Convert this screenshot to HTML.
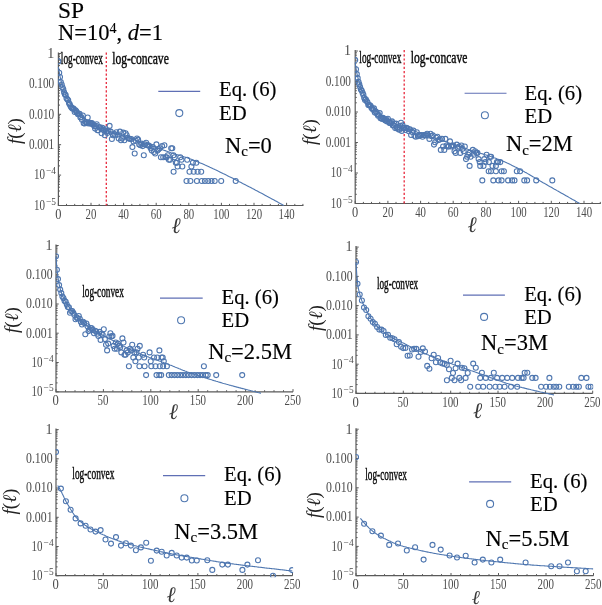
<!DOCTYPE html>
<html><head><meta charset="utf-8"><title>SP distributions</title>
<style>
html,body{margin:0;padding:0;background:#fff}
svg{display:block;font-family:"Liberation Serif","DejaVu Serif",serif;will-change:transform}
</style></head><body>
<svg width="602" height="605" viewBox="0 0 602 605">
<g stroke="#000" stroke-width="0.15">
<text x="58" y="17.6" font-size="22.5" textLength="26" lengthAdjust="spacingAndGlyphs">SP</text>
<text x="58" y="39.9" font-size="22.5">N=10<tspan font-size="14" dy="-7">4</tspan><tspan dy="7">, </tspan><tspan font-style="italic">d</tspan>=1</text>
</g>
<path d="M58.4 52.5V205.5H303.4" fill="none" stroke="#5a5a5a" stroke-width="1.2"/>
<path d="M58.4 205.5v-2.7M66.5 205.5v-1.6M74.7 205.5v-1.6M82.8 205.5v-1.6M91 205.5v-2.7M99.2 205.5v-1.6M107.3 205.5v-1.6M115.4 205.5v-1.6M123.6 205.5v-2.7M131.8 205.5v-1.6M139.9 205.5v-1.6M148 205.5v-1.6M156.2 205.5v-2.7M164.3 205.5v-1.6M172.5 205.5v-1.6M180.6 205.5v-1.6M188.8 205.5v-2.7M196.9 205.5v-1.6M205.1 205.5v-1.6M213.2 205.5v-1.6M221.4 205.5v-2.7M229.5 205.5v-1.6M237.7 205.5v-1.6M245.8 205.5v-1.6M254 205.5v-2.7M262.1 205.5v-1.6M270.3 205.5v-1.6M278.4 205.5v-1.6M286.6 205.5v-2.7M294.8 205.5v-1.6M302.9 205.5v-1.6M58.4 53.5h2.7M58.4 83.9h2.7M58.4 74.7h1.6M58.4 69.4h1.6M58.4 65.6h1.6M58.4 62.7h1.6M58.4 60.2h1.6M58.4 58.2h1.6M58.4 56.4h1.6M58.4 54.9h1.6M58.4 114.3h2.7M58.4 105.1h1.6M58.4 99.8h1.6M58.4 96h1.6M58.4 93.1h1.6M58.4 90.6h1.6M58.4 88.6h1.6M58.4 86.8h1.6M58.4 85.3h1.6M58.4 144.7h2.7M58.4 135.5h1.6M58.4 130.2h1.6M58.4 126.4h1.6M58.4 123.5h1.6M58.4 121h1.6M58.4 119h1.6M58.4 117.2h1.6M58.4 115.7h1.6M58.4 175.1h2.7M58.4 165.9h1.6M58.4 160.6h1.6M58.4 156.8h1.6M58.4 153.9h1.6M58.4 151.4h1.6M58.4 149.4h1.6M58.4 147.6h1.6M58.4 146.1h1.6M58.4 205.5h2.7M58.4 196.3h1.6M58.4 191h1.6M58.4 187.2h1.6M58.4 184.3h1.6M58.4 181.8h1.6M58.4 179.8h1.6M58.4 178h1.6M58.4 176.5h1.6" fill="none" stroke="#5a5a5a" stroke-width="1.0"/>
<g font-size="14" fill="#4c4c4c"><text x="55.3" y="219" textLength="6.2" lengthAdjust="spacingAndGlyphs">0</text><text x="85.6" y="219" textLength="10.8" lengthAdjust="spacingAndGlyphs">20</text><text x="118.2" y="219" textLength="10.8" lengthAdjust="spacingAndGlyphs">40</text><text x="150.8" y="219" textLength="10.8" lengthAdjust="spacingAndGlyphs">60</text><text x="183.4" y="219" textLength="10.8" lengthAdjust="spacingAndGlyphs">80</text><text x="213.3" y="219" textLength="16.2" lengthAdjust="spacingAndGlyphs">100</text><text x="245.9" y="219" textLength="16.2" lengthAdjust="spacingAndGlyphs">120</text><text x="278.5" y="219" textLength="16.2" lengthAdjust="spacingAndGlyphs">140</text><text x="54.2" y="57.8" text-anchor="end">1</text><text x="28.9" y="88.2" textLength="25.3" lengthAdjust="spacingAndGlyphs">0.100</text><text x="28.9" y="118.6" textLength="25.3" lengthAdjust="spacingAndGlyphs">0.010</text><text x="28.9" y="149" textLength="25.3" lengthAdjust="spacingAndGlyphs">0.001</text><text x="34" y="179.4" textLength="11.0" lengthAdjust="spacingAndGlyphs">10</text><text x="46" y="174.2" font-size="9.5" textLength="10" lengthAdjust="spacingAndGlyphs">−4</text><text x="34" y="209.8" textLength="11.0" lengthAdjust="spacingAndGlyphs">10</text><text x="46" y="204.6" font-size="9.5" textLength="10" lengthAdjust="spacingAndGlyphs">−5</text></g>
<path d="M106.3 52.5V205.5" stroke="#e8283c" stroke-width="1.3" stroke-dasharray="2.2 2" fill="none"/>
<clipPath id="cp1"><rect x="58.1" y="45.5" width="245.9" height="161.5"/></clipPath>
<g fill="none" stroke="#4f77b0" stroke-width="1.1" clip-path="url(#cp1)"><circle cx="58.4" cy="61.4" r="2.5"/><circle cx="59.2" cy="72.7" r="2.5"/><circle cx="60" cy="77" r="2.5"/><circle cx="60.8" cy="82.1" r="2.5"/><circle cx="61.7" cy="84.5" r="2.5"/><circle cx="62.5" cy="87.2" r="2.5"/><circle cx="63.3" cy="89.2" r="2.5"/><circle cx="64.1" cy="92.4" r="2.5"/><circle cx="64.9" cy="94.4" r="2.5"/><circle cx="65.7" cy="95" r="2.5"/><circle cx="66.5" cy="98.2" r="2.5"/><circle cx="67.4" cy="99.4" r="2.5"/><circle cx="68.2" cy="100.2" r="2.5"/><circle cx="69" cy="103.2" r="2.5"/><circle cx="69.8" cy="104.4" r="2.5"/><circle cx="70.6" cy="106.2" r="2.5"/><circle cx="71.4" cy="107.5" r="2.5"/><circle cx="72.3" cy="108.5" r="2.5"/><circle cx="73.1" cy="108.4" r="2.5"/><circle cx="73.9" cy="109.1" r="2.5"/><circle cx="74.7" cy="111.9" r="2.5"/><circle cx="75.5" cy="110.2" r="2.5"/><circle cx="76.3" cy="111.2" r="2.5"/><circle cx="77.1" cy="112.7" r="2.5"/><circle cx="78" cy="114.3" r="2.5"/><circle cx="78.8" cy="113.8" r="2.5"/><circle cx="79.6" cy="113.7" r="2.5"/><circle cx="80.4" cy="117.5" r="2.5"/><circle cx="81.2" cy="117.1" r="2.5"/><circle cx="82" cy="119.8" r="2.5"/><circle cx="82.8" cy="115.5" r="2.5"/><circle cx="83.7" cy="123.3" r="2.5"/><circle cx="84.5" cy="123.5" r="2.5"/><circle cx="85.3" cy="121.9" r="2.5"/><circle cx="86.1" cy="122.2" r="2.5"/><circle cx="86.9" cy="123.1" r="2.5"/><circle cx="87.7" cy="117.5" r="2.5"/><circle cx="88.6" cy="123.5" r="2.5"/><circle cx="89.4" cy="122.7" r="2.5"/><circle cx="90.2" cy="122.8" r="2.5"/><circle cx="91" cy="123.8" r="2.5"/><circle cx="91.8" cy="123.1" r="2.5"/><circle cx="92.6" cy="124" r="2.5"/><circle cx="93.4" cy="124.7" r="2.5"/><circle cx="94.3" cy="126.1" r="2.5"/><circle cx="95.1" cy="128.6" r="2.5"/><circle cx="95.9" cy="125.9" r="2.5"/><circle cx="96.7" cy="124.3" r="2.5"/><circle cx="97.5" cy="130.2" r="2.5"/><circle cx="98.3" cy="130.2" r="2.5"/><circle cx="99.2" cy="127.2" r="2.5"/><circle cx="100" cy="127.2" r="2.5"/><circle cx="100.8" cy="128.3" r="2.5"/><circle cx="101.6" cy="133.3" r="2.5"/><circle cx="102.4" cy="127.8" r="2.5"/><circle cx="103.2" cy="129.6" r="2.5"/><circle cx="104" cy="130.4" r="2.5"/><circle cx="104.9" cy="135.2" r="2.5"/><circle cx="105.7" cy="129.3" r="2.5"/><circle cx="106.5" cy="131.6" r="2.5"/><circle cx="107.3" cy="133" r="2.5"/><circle cx="108.4" cy="130.7" r="2.5"/><circle cx="109.6" cy="125.9" r="2.5"/><circle cx="110.7" cy="131.6" r="2.5"/><circle cx="111.9" cy="139" r="2.5"/><circle cx="113" cy="135.2" r="2.5"/><circle cx="114.1" cy="133.7" r="2.5"/><circle cx="115.3" cy="135.2" r="2.5"/><circle cx="116.4" cy="132.3" r="2.5"/><circle cx="117.6" cy="134.8" r="2.5"/><circle cx="118.7" cy="138.5" r="2.5"/><circle cx="119.9" cy="131.6" r="2.5"/><circle cx="121" cy="140.2" r="2.5"/><circle cx="122.1" cy="138.5" r="2.5"/><circle cx="123.3" cy="132.6" r="2.5"/><circle cx="124.4" cy="140.2" r="2.5"/><circle cx="125.6" cy="133.3" r="2.5"/><circle cx="126.7" cy="135.2" r="2.5"/><circle cx="127.8" cy="138" r="2.5"/><circle cx="129" cy="138.5" r="2.5"/><circle cx="130.1" cy="139" r="2.5"/><circle cx="131.3" cy="139" r="2.5"/><circle cx="132.4" cy="147.1" r="2.5"/><circle cx="133.5" cy="141.4" r="2.5"/><circle cx="134.7" cy="153.5" r="2.5"/><circle cx="135.8" cy="140.8" r="2.5"/><circle cx="137" cy="138.5" r="2.5"/><circle cx="138.1" cy="139.6" r="2.5"/><circle cx="139.2" cy="144.4" r="2.5"/><circle cx="140.4" cy="145.2" r="2.5"/><circle cx="141.5" cy="143.6" r="2.5"/><circle cx="142.7" cy="146.1" r="2.5"/><circle cx="143.8" cy="155.3" r="2.5"/><circle cx="145" cy="144.4" r="2.5"/><circle cx="146.1" cy="142.8" r="2.5"/><circle cx="147.2" cy="145.2" r="2.5"/><circle cx="148.4" cy="145.2" r="2.5"/><circle cx="149.5" cy="146.1" r="2.5"/><circle cx="150.7" cy="148.2" r="2.5"/><circle cx="151.8" cy="150.6" r="2.5"/><circle cx="152.9" cy="147.1" r="2.5"/><circle cx="154.1" cy="152" r="2.5"/><circle cx="155.2" cy="153.5" r="2.5"/><circle cx="156.4" cy="144.4" r="2.5"/><circle cx="157.5" cy="150.6" r="2.5"/><circle cx="158.6" cy="149.3" r="2.5"/><circle cx="159.8" cy="148.2" r="2.5"/><circle cx="160.9" cy="157.3" r="2.5"/><circle cx="162.1" cy="146.1" r="2.5"/><circle cx="163.2" cy="157.3" r="2.5"/><circle cx="164.4" cy="145.2" r="2.5"/><circle cx="165.5" cy="157.3" r="2.5"/><circle cx="166.6" cy="157.3" r="2.5"/><circle cx="167.8" cy="155.3" r="2.5"/><circle cx="168.9" cy="159.7" r="2.5"/><circle cx="170.1" cy="159.7" r="2.5"/><circle cx="171.2" cy="148.2" r="2.5"/><circle cx="172.3" cy="148.2" r="2.5"/><circle cx="173.5" cy="155.3" r="2.5"/><circle cx="174.6" cy="157.3" r="2.5"/><circle cx="175.8" cy="162.7" r="2.5"/><circle cx="176.9" cy="162.7" r="2.5"/><circle cx="180.3" cy="157.3" r="2.5"/><circle cx="181.5" cy="159.7" r="2.5"/><circle cx="187.2" cy="159.7" r="2.5"/><circle cx="192.9" cy="162.7" r="2.5"/><circle cx="196.3" cy="162.7" r="2.5"/><circle cx="186.5" cy="181" r="2.5"/><circle cx="190.4" cy="181" r="2.5"/><circle cx="196.9" cy="181" r="2.5"/><circle cx="201.8" cy="181" r="2.5"/><circle cx="204.9" cy="181" r="2.5"/><circle cx="208.2" cy="181" r="2.5"/><circle cx="211.5" cy="181" r="2.5"/><circle cx="214.7" cy="181" r="2.5"/><circle cx="221.2" cy="181" r="2.5"/><circle cx="235.7" cy="181" r="2.5"/><circle cx="173.6" cy="171.8" r="2.5"/><circle cx="189.5" cy="171.8" r="2.5"/><circle cx="193.7" cy="171.8" r="2.5"/><circle cx="197.6" cy="171.8" r="2.5"/><circle cx="201.2" cy="171.8" r="2.5"/><circle cx="177.6" cy="166.5" r="2.5"/><circle cx="182.3" cy="166.5" r="2.5"/><circle cx="191.4" cy="166.5" r="2.5"/></g>
<path d="M58.4 67.2L60 76.3L61.7 83.3L63.3 88.5L64.9 92.8L66.5 96.7L68.2 99.9L69.8 102.7L71.4 105.2L73.1 107.4L74.7 109.4L76.3 111.2L78 112.9L79.6 114.5L81.2 115.9L82.8 117.3L84.5 118.7L86.1 120L87.7 121.3L89.4 122.4L91 123.4L92.6 124.3L94.3 125.1L95.9 125.9L97.5 126.6L99.2 127.3L100.8 127.9L102.4 128.5L104 129.2L105.7 129.8L107.3 130.4L108.9 131L110.6 131.6L112.2 132.2L113.8 132.8L115.4 133.4L117.1 134L118.7 134.5L120.3 135.1L122 135.6L123.6 136.2L125.2 136.7L126.9 137.3L128.5 137.8L130.1 138.4L131.8 138.9L133.4 139.5L135 140L136.6 140.6L138.3 141.1L139.9 141.7L141.5 142.2L143.2 142.8L144.8 143.4L146.4 143.9L148 144.5L149.7 145.1L151.3 145.7L152.9 146.3L154.6 146.9L156.2 147.4L157.8 148L159.5 148.6L161.1 149.2L162.7 149.8L164.3 150.4L166 150.9L167.6 151.5L169.2 152.1L170.9 152.7L172.5 153.2L174.1 153.7L175.8 154.3L177.4 154.8L179 155.3L180.6 155.8L182.3 156.2L183.9 156.8L185.5 157.3L187.2 157.8L188.8 158.4L190.4 159L192.1 159.6L193.7 160.2L195.3 160.9L196.9 161.6L198.6 162.3L200.2 162.9L201.8 163.6L203.5 164.3L205.1 165.1L206.7 165.8L208.4 166.5L210 167.3L211.6 168L213.2 168.8L214.9 169.6L216.5 170.3L218.1 171.1L219.8 171.9L221.4 172.7L223 173.5L224.7 174.2L226.3 175.1L227.9 175.9L229.5 176.7L231.2 177.5L232.8 178.3L234.4 179.2L236.1 180L237.7 180.8L239.3 181.7L241 182.5L242.6 183.4L244.2 184.2L245.8 185.1L247.5 185.9L249.1 186.8L250.7 187.6L252.4 188.5L254 189.3L255.6 190.2L257.3 191L258.9 191.9L260.5 192.8L262.1 193.6L263.8 194.5L265.4 195.4L267 196.3L268.7 197.2L270.3 198.1L271.9 198.9L273.6 199.8L275.2 200.7L276.8 201.6L278.4 202.5L280.1 203.4L281.7 204.3L283.3 205.2L283.8 205.5" fill="none" stroke="#4f77b0" stroke-width="1.1" stroke-linejoin="round"/>
<text x="176.1" y="232.7" font-size="22" font-style="italic" fill="#3a3a3a" text-anchor="middle">ℓ</text>
<text transform="translate(21 131) rotate(-90)" font-size="19" fill="#222" text-anchor="middle"><tspan font-style="italic">f</tspan>(<tspan font-style="italic">ℓ</tspan>)</text>
<path d="M158.3 91.3H200.2" stroke="#5f6fb5" stroke-width="1.15"/>
<circle cx="179.3" cy="113.1" r="3.5" fill="none" stroke="#4f77b0" stroke-width="1.1"/>
<text x="219" y="96.3" font-size="20.7" stroke="#000" stroke-width="0.15">Eq. (6)</text>
<text x="219" y="120.2" font-size="20.7" stroke="#000" stroke-width="0.15">ED</text>
<text x="225" y="152.7" font-size="22.5" stroke="#000" stroke-width="0.15">N<tspan font-size="15" dy="3.5">c</tspan><tspan dy="-3.5">=0</tspan></text>
<text x="60.8" y="64" font-size="16.5" textLength="42" lengthAdjust="spacingAndGlyphs" stroke="#111" stroke-width="0.45">log-convex</text>
<text x="112.2" y="64" font-size="16.5" textLength="56.6" lengthAdjust="spacingAndGlyphs" stroke="#111" stroke-width="0.45">log-concave</text>
<path d="M355.2 50V203.5H600.8" fill="none" stroke="#5a5a5a" stroke-width="1.2"/>
<path d="M355.2 203.5v-2.7M363.4 203.5v-1.6M371.5 203.5v-1.6M379.7 203.5v-1.6M387.9 203.5v-2.7M396 203.5v-1.6M404.2 203.5v-1.6M412.4 203.5v-1.6M420.6 203.5v-2.7M428.7 203.5v-1.6M436.9 203.5v-1.6M445.1 203.5v-1.6M453.2 203.5v-2.7M461.4 203.5v-1.6M469.6 203.5v-1.6M477.8 203.5v-1.6M485.9 203.5v-2.7M494.1 203.5v-1.6M502.3 203.5v-1.6M510.4 203.5v-1.6M518.6 203.5v-2.7M526.8 203.5v-1.6M534.9 203.5v-1.6M543.1 203.5v-1.6M551.3 203.5v-2.7M559.5 203.5v-1.6M567.6 203.5v-1.6M575.8 203.5v-1.6M584 203.5v-2.7M592.1 203.5v-1.6M600.3 203.5v-1.6M355.2 51h2.7M355.2 81.5h2.7M355.2 72.3h1.6M355.2 66.9h1.6M355.2 63.1h1.6M355.2 60.2h1.6M355.2 57.8h1.6M355.2 55.7h1.6M355.2 54h1.6M355.2 52.4h1.6M355.2 112h2.7M355.2 102.8h1.6M355.2 97.4h1.6M355.2 93.6h1.6M355.2 90.7h1.6M355.2 88.3h1.6M355.2 86.2h1.6M355.2 84.5h1.6M355.2 82.9h1.6M355.2 142.5h2.7M355.2 133.3h1.6M355.2 127.9h1.6M355.2 124.1h1.6M355.2 121.2h1.6M355.2 118.8h1.6M355.2 116.7h1.6M355.2 115h1.6M355.2 113.4h1.6M355.2 173h2.7M355.2 163.8h1.6M355.2 158.4h1.6M355.2 154.6h1.6M355.2 151.7h1.6M355.2 149.3h1.6M355.2 147.2h1.6M355.2 145.5h1.6M355.2 143.9h1.6M355.2 203.5h2.7M355.2 194.3h1.6M355.2 188.9h1.6M355.2 185.1h1.6M355.2 182.2h1.6M355.2 179.8h1.6M355.2 177.7h1.6M355.2 176h1.6M355.2 174.4h1.6" fill="none" stroke="#5a5a5a" stroke-width="1.0"/>
<g font-size="14" fill="#4c4c4c"><text x="352.1" y="217" textLength="6.2" lengthAdjust="spacingAndGlyphs">0</text><text x="382.5" y="217" textLength="10.8" lengthAdjust="spacingAndGlyphs">20</text><text x="415.2" y="217" textLength="10.8" lengthAdjust="spacingAndGlyphs">40</text><text x="447.8" y="217" textLength="10.8" lengthAdjust="spacingAndGlyphs">60</text><text x="480.5" y="217" textLength="10.8" lengthAdjust="spacingAndGlyphs">80</text><text x="510.5" y="217" textLength="16.2" lengthAdjust="spacingAndGlyphs">100</text><text x="543.2" y="217" textLength="16.2" lengthAdjust="spacingAndGlyphs">120</text><text x="575.9" y="217" textLength="16.2" lengthAdjust="spacingAndGlyphs">140</text><text x="351" y="55.3" text-anchor="end">1</text><text x="325.7" y="85.8" textLength="25.3" lengthAdjust="spacingAndGlyphs">0.100</text><text x="325.7" y="116.3" textLength="25.3" lengthAdjust="spacingAndGlyphs">0.010</text><text x="325.7" y="146.8" textLength="25.3" lengthAdjust="spacingAndGlyphs">0.001</text><text x="330.8" y="177.3" textLength="11.0" lengthAdjust="spacingAndGlyphs">10</text><text x="342.8" y="172.1" font-size="9.5" textLength="10" lengthAdjust="spacingAndGlyphs">−4</text><text x="330.8" y="207.8" textLength="11.0" lengthAdjust="spacingAndGlyphs">10</text><text x="342.8" y="202.6" font-size="9.5" textLength="10" lengthAdjust="spacingAndGlyphs">−5</text></g>
<path d="M404.2 50V203.5" stroke="#e8283c" stroke-width="1.3" stroke-dasharray="2.2 2" fill="none"/>
<clipPath id="cp2"><rect x="354.9" y="43" width="246.5" height="162"/></clipPath>
<g fill="none" stroke="#4f77b0" stroke-width="1.1" clip-path="url(#cp2)"><circle cx="355.2" cy="60.1" r="2.5"/><circle cx="356" cy="69.3" r="2.5"/><circle cx="356.8" cy="74.1" r="2.5"/><circle cx="357.7" cy="78.1" r="2.5"/><circle cx="358.5" cy="81.7" r="2.5"/><circle cx="359.3" cy="84.3" r="2.5"/><circle cx="360.1" cy="87.1" r="2.5"/><circle cx="360.9" cy="89.6" r="2.5"/><circle cx="361.7" cy="90.6" r="2.5"/><circle cx="362.6" cy="92.9" r="2.5"/><circle cx="363.4" cy="94.9" r="2.5"/><circle cx="364.2" cy="98.1" r="2.5"/><circle cx="365" cy="100" r="2.5"/><circle cx="365.8" cy="99.3" r="2.5"/><circle cx="366.6" cy="101.1" r="2.5"/><circle cx="367.5" cy="102.3" r="2.5"/><circle cx="368.3" cy="105" r="2.5"/><circle cx="369.1" cy="105" r="2.5"/><circle cx="369.9" cy="105.2" r="2.5"/><circle cx="370.7" cy="106" r="2.5"/><circle cx="371.5" cy="108.1" r="2.5"/><circle cx="372.4" cy="108.8" r="2.5"/><circle cx="373.2" cy="109.7" r="2.5"/><circle cx="374" cy="108.4" r="2.5"/><circle cx="374.8" cy="112.6" r="2.5"/><circle cx="375.6" cy="111.2" r="2.5"/><circle cx="376.4" cy="112.3" r="2.5"/><circle cx="377.3" cy="113.9" r="2.5"/><circle cx="378.1" cy="115.8" r="2.5"/><circle cx="378.9" cy="115.1" r="2.5"/><circle cx="379.7" cy="113.1" r="2.5"/><circle cx="380.5" cy="118.2" r="2.5"/><circle cx="381.3" cy="118.1" r="2.5"/><circle cx="382.2" cy="118.9" r="2.5"/><circle cx="383" cy="117.9" r="2.5"/><circle cx="383.8" cy="118.8" r="2.5"/><circle cx="384.6" cy="119.8" r="2.5"/><circle cx="385.4" cy="120.6" r="2.5"/><circle cx="386.2" cy="119.4" r="2.5"/><circle cx="387.1" cy="121.4" r="2.5"/><circle cx="387.9" cy="118.7" r="2.5"/><circle cx="388.7" cy="121.6" r="2.5"/><circle cx="389.5" cy="122.9" r="2.5"/><circle cx="390.3" cy="123.1" r="2.5"/><circle cx="391.1" cy="122.2" r="2.5"/><circle cx="392" cy="121.4" r="2.5"/><circle cx="392.8" cy="125.4" r="2.5"/><circle cx="393.6" cy="125.2" r="2.5"/><circle cx="394.4" cy="123.8" r="2.5"/><circle cx="395.2" cy="128.1" r="2.5"/><circle cx="396" cy="123.6" r="2.5"/><circle cx="396.9" cy="127.9" r="2.5"/><circle cx="397.7" cy="127.6" r="2.5"/><circle cx="398.5" cy="129.2" r="2.5"/><circle cx="399.3" cy="129.7" r="2.5"/><circle cx="400.1" cy="125.8" r="2.5"/><circle cx="401" cy="122.7" r="2.5"/><circle cx="401.8" cy="130.9" r="2.5"/><circle cx="402.6" cy="125.4" r="2.5"/><circle cx="403.4" cy="127.9" r="2.5"/><circle cx="404.2" cy="127.9" r="2.5"/><circle cx="405.4" cy="130" r="2.5"/><circle cx="406.5" cy="127.9" r="2.5"/><circle cx="407.7" cy="128.6" r="2.5"/><circle cx="408.8" cy="131.3" r="2.5"/><circle cx="409.9" cy="129.4" r="2.5"/><circle cx="411.1" cy="135" r="2.5"/><circle cx="412.2" cy="131.9" r="2.5"/><circle cx="413.4" cy="130.6" r="2.5"/><circle cx="414.5" cy="135.8" r="2.5"/><circle cx="415.7" cy="136.8" r="2.5"/><circle cx="416.8" cy="132.3" r="2.5"/><circle cx="417.9" cy="136.3" r="2.5"/><circle cx="419.1" cy="135" r="2.5"/><circle cx="420.2" cy="135.4" r="2.5"/><circle cx="421.4" cy="135" r="2.5"/><circle cx="422.5" cy="136.8" r="2.5"/><circle cx="423.7" cy="135" r="2.5"/><circle cx="424.8" cy="135" r="2.5"/><circle cx="426" cy="135.4" r="2.5"/><circle cx="427.1" cy="133.7" r="2.5"/><circle cx="428.2" cy="135.4" r="2.5"/><circle cx="429.4" cy="138.9" r="2.5"/><circle cx="430.5" cy="133.7" r="2.5"/><circle cx="431.7" cy="136.3" r="2.5"/><circle cx="432.8" cy="135.4" r="2.5"/><circle cx="434" cy="144.6" r="2.5"/><circle cx="435.1" cy="142.2" r="2.5"/><circle cx="436.2" cy="137.8" r="2.5"/><circle cx="437.4" cy="136.8" r="2.5"/><circle cx="438.5" cy="140.1" r="2.5"/><circle cx="439.7" cy="139.5" r="2.5"/><circle cx="440.8" cy="149.9" r="2.5"/><circle cx="442" cy="138.9" r="2.5"/><circle cx="443.1" cy="146.5" r="2.5"/><circle cx="444.3" cy="149.9" r="2.5"/><circle cx="445.4" cy="138.9" r="2.5"/><circle cx="446.5" cy="145.5" r="2.5"/><circle cx="447.7" cy="146.5" r="2.5"/><circle cx="448.8" cy="146.5" r="2.5"/><circle cx="450" cy="141.4" r="2.5"/><circle cx="451.1" cy="146.5" r="2.5"/><circle cx="452.3" cy="145.5" r="2.5"/><circle cx="453.4" cy="145.5" r="2.5"/><circle cx="454.5" cy="151.3" r="2.5"/><circle cx="455.7" cy="152.9" r="2.5"/><circle cx="456.8" cy="144.6" r="2.5"/><circle cx="458" cy="147.5" r="2.5"/><circle cx="459.1" cy="146.5" r="2.5"/><circle cx="460.3" cy="152.9" r="2.5"/><circle cx="461.4" cy="145.5" r="2.5"/><circle cx="462.6" cy="148.7" r="2.5"/><circle cx="463.7" cy="151.3" r="2.5"/><circle cx="464.8" cy="146.5" r="2.5"/><circle cx="466" cy="159.1" r="2.5"/><circle cx="467.1" cy="156.7" r="2.5"/><circle cx="468.3" cy="154.7" r="2.5"/><circle cx="469.4" cy="152.9" r="2.5"/><circle cx="470.6" cy="156.7" r="2.5"/><circle cx="472.8" cy="149.9" r="2.5"/><circle cx="474" cy="154.7" r="2.5"/><circle cx="475.1" cy="151.3" r="2.5"/><circle cx="476.3" cy="152.9" r="2.5"/><circle cx="477.4" cy="152.9" r="2.5"/><circle cx="478.6" cy="159.1" r="2.5"/><circle cx="479.7" cy="162.1" r="2.5"/><circle cx="484.3" cy="159.1" r="2.5"/><circle cx="485.4" cy="162.1" r="2.5"/><circle cx="486.6" cy="154.7" r="2.5"/><circle cx="488.9" cy="162.1" r="2.5"/><circle cx="490" cy="156.7" r="2.5"/><circle cx="491.1" cy="156.7" r="2.5"/><circle cx="496.9" cy="162.1" r="2.5"/><circle cx="498" cy="162.1" r="2.5"/><circle cx="500.3" cy="162.1" r="2.5"/><circle cx="482.3" cy="180.4" r="2.5"/><circle cx="493.3" cy="180.4" r="2.5"/><circle cx="498.5" cy="180.4" r="2.5"/><circle cx="501.6" cy="180.4" r="2.5"/><circle cx="508.1" cy="180.4" r="2.5"/><circle cx="512.1" cy="180.4" r="2.5"/><circle cx="514.5" cy="180.4" r="2.5"/><circle cx="524.3" cy="180.4" r="2.5"/><circle cx="527.1" cy="180.4" r="2.5"/><circle cx="536.2" cy="180.4" r="2.5"/><circle cx="552.3" cy="180.4" r="2.5"/><circle cx="488.7" cy="171.3" r="2.5"/><circle cx="491" cy="171.3" r="2.5"/><circle cx="495.9" cy="171.3" r="2.5"/><circle cx="501.6" cy="171.3" r="2.5"/><circle cx="503.9" cy="171.3" r="2.5"/><circle cx="516.8" cy="171.3" r="2.5"/><circle cx="520.1" cy="171.3" r="2.5"/><circle cx="469.6" cy="165.9" r="2.5"/><circle cx="480.2" cy="165.9" r="2.5"/><circle cx="483.5" cy="165.9" r="2.5"/><circle cx="492.5" cy="165.9" r="2.5"/><circle cx="495.9" cy="165.9" r="2.5"/></g>
<path d="M355.2 63.2L356.8 73L358.5 80L360.1 85.2L361.7 89.7L363.4 93.7L365 97L366.6 99.8L368.3 102.3L369.9 104.5L371.5 106.5L373.2 108.3L374.8 110L376.4 111.6L378.1 113L379.7 114.4L381.3 115.8L383 117.2L384.6 118.4L386.2 119.6L387.9 120.5L389.5 121.4L391.1 122.2L392.8 122.9L394.4 123.6L396 124.2L397.7 124.8L399.3 125.4L401 126L402.6 126.6L404.2 127.2L405.9 127.9L407.5 128.5L409.1 129.1L410.8 129.8L412.4 130.4L414 131L415.7 131.6L417.3 132.2L418.9 132.8L420.6 133.4L422.2 133.9L423.8 134.5L425.5 135L427.1 135.6L428.7 136.1L430.4 136.7L432 137.2L433.6 137.8L435.3 138.3L436.9 138.8L438.5 139.4L440.2 139.9L441.8 140.5L443.4 141L445.1 141.6L446.7 142.1L448.3 142.7L450 143.2L451.6 143.8L453.2 144.3L454.9 144.9L456.5 145.4L458.1 146L459.8 146.5L461.4 147.1L463 147.6L464.7 148.2L466.3 148.7L467.9 149.3L469.6 149.8L471.2 150.3L472.8 150.9L474.5 151.4L476.1 151.9L477.8 152.4L479.4 152.9L481 153.4L482.7 153.9L484.3 154.5L485.9 155L487.6 155.5L489.2 156.1L490.8 156.6L492.5 157.2L494.1 157.8L495.7 158.3L497.4 159L499 159.6L500.6 160.2L502.3 160.9L503.9 161.6L505.5 162.3L507.2 163.1L508.8 163.8L510.4 164.6L512.1 165.4L513.7 166.2L515.3 167L517 167.8L518.6 168.7L520.2 169.5L521.9 170.4L523.5 171.3L525.1 172.2L526.8 173.1L528.4 174.1L530 175L531.7 176L533.3 176.9L534.9 177.9L536.6 178.8L538.2 179.8L539.8 180.8L541.5 181.7L543.1 182.7L544.7 183.6L546.4 184.5L548 185.5L549.6 186.4L551.3 187.3L552.9 188.3L554.5 189.2L556.2 190.1L557.8 191.1L559.5 192L561.1 192.9L562.7 193.8L564.4 194.8L566 195.7L567.6 196.6L569.3 197.6L570.9 198.5L572.5 199.4L574.2 200.3L575.8 201.3L577.4 202.2L579.1 203.1L579.7 203.5" fill="none" stroke="#4f77b0" stroke-width="1.1" stroke-linejoin="round"/>
<text x="472.2" y="232" font-size="22" font-style="italic" fill="#3a3a3a" text-anchor="middle">ℓ</text>
<text transform="translate(315.5 132) rotate(-90)" font-size="19" fill="#222" text-anchor="middle"><tspan font-style="italic">f</tspan>(<tspan font-style="italic">ℓ</tspan>)</text>
<path d="M464.6 93.2H506.5" stroke="#5f6fb5" stroke-width="1.15"/>
<circle cx="484.9" cy="115.2" r="3.5" fill="none" stroke="#4f77b0" stroke-width="1.1"/>
<text x="524.6" y="99.7" font-size="20.7" stroke="#000" stroke-width="0.15">Eq. (6)</text>
<text x="524.6" y="123.3" font-size="20.7" stroke="#000" stroke-width="0.15">ED</text>
<text x="505.9" y="151.3" font-size="22.5" stroke="#000" stroke-width="0.15">N<tspan font-size="15" dy="3.5">c</tspan><tspan dy="-3.5">=2M</tspan></text>
<text x="359.3" y="62.6" font-size="16.5" textLength="42" lengthAdjust="spacingAndGlyphs" stroke="#111" stroke-width="0.45">log-convex</text>
<text x="410.8" y="62.6" font-size="16.5" textLength="56.6" lengthAdjust="spacingAndGlyphs" stroke="#111" stroke-width="0.45">log-concave</text>
<path d="M56 244.5V391.8H293" fill="none" stroke="#5a5a5a" stroke-width="1.2"/>
<path d="M56 391.8v-2.7M65.5 391.8v-1.6M75 391.8v-1.6M84.4 391.8v-1.6M93.9 391.8v-1.6M103.4 391.8v-2.7M112.9 391.8v-1.6M122.4 391.8v-1.6M131.8 391.8v-1.6M141.3 391.8v-1.6M150.8 391.8v-2.7M160.3 391.8v-1.6M169.8 391.8v-1.6M179.2 391.8v-1.6M188.7 391.8v-1.6M198.2 391.8v-2.7M207.7 391.8v-1.6M217.2 391.8v-1.6M226.6 391.8v-1.6M236.1 391.8v-1.6M245.6 391.8v-2.7M255.1 391.8v-1.6M264.6 391.8v-1.6M274 391.8v-1.6M283.5 391.8v-1.6M293 391.8v-2.7M56 245.5h2.7M56 274.8h2.7M56 265.9h1.6M56 260.8h1.6M56 257.1h1.6M56 254.3h1.6M56 252h1.6M56 250h1.6M56 248.3h1.6M56 246.8h1.6M56 304h2.7M56 295.2h1.6M56 290h1.6M56 286.4h1.6M56 283.6h1.6M56 281.2h1.6M56 279.3h1.6M56 277.6h1.6M56 276.1h1.6M56 333.2h2.7M56 324.4h1.6M56 319.3h1.6M56 315.6h1.6M56 312.8h1.6M56 310.5h1.6M56 308.5h1.6M56 306.8h1.6M56 305.3h1.6M56 362.5h2.7M56 353.7h1.6M56 348.5h1.6M56 344.9h1.6M56 342.1h1.6M56 339.7h1.6M56 337.8h1.6M56 336.1h1.6M56 334.6h1.6M56 391.8h2.7M56 382.9h1.6M56 377.8h1.6M56 374.1h1.6M56 371.3h1.6M56 369h1.6M56 367h1.6M56 365.3h1.6M56 363.8h1.6" fill="none" stroke="#5a5a5a" stroke-width="1.0"/>
<g font-size="14" fill="#4c4c4c"><text x="52.6" y="404.9" textLength="6.3" lengthAdjust="spacingAndGlyphs">0</text><text x="97.6" y="404.9" textLength="10.9" lengthAdjust="spacingAndGlyphs">50</text><text x="142.3" y="404.9" textLength="16.4" lengthAdjust="spacingAndGlyphs">100</text><text x="189.7" y="404.9" textLength="16.4" lengthAdjust="spacingAndGlyphs">150</text><text x="237.1" y="404.9" textLength="16.4" lengthAdjust="spacingAndGlyphs">200</text><text x="284.5" y="404.9" textLength="16.4" lengthAdjust="spacingAndGlyphs">250</text><text x="52.6" y="249.8" text-anchor="end">1</text><text x="26" y="279.1" textLength="26.6" lengthAdjust="spacingAndGlyphs">0.100</text><text x="26" y="308.3" textLength="26.6" lengthAdjust="spacingAndGlyphs">0.010</text><text x="26" y="337.6" textLength="26.6" lengthAdjust="spacingAndGlyphs">0.001</text><text x="31.6" y="366.8" textLength="11.0" lengthAdjust="spacingAndGlyphs">10</text><text x="43.6" y="361.6" font-size="10" textLength="10" lengthAdjust="spacingAndGlyphs">−4</text><text x="31.6" y="396.1" textLength="11.0" lengthAdjust="spacingAndGlyphs">10</text><text x="43.6" y="390.9" font-size="10" textLength="10" lengthAdjust="spacingAndGlyphs">−5</text></g>
<clipPath id="cp3"><rect x="55.7" y="237.5" width="237.9" height="155.8"/></clipPath>
<g fill="none" stroke="#4f77b0" stroke-width="1.1" clip-path="url(#cp3)"><circle cx="56" cy="256.3" r="2.5"/><circle cx="56.9" cy="269.8" r="2.5"/><circle cx="58" cy="279.1" r="2.5"/><circle cx="59.1" cy="285.1" r="2.5"/><circle cx="60.2" cy="289.6" r="2.5"/><circle cx="61.3" cy="293.1" r="2.5"/><circle cx="62.4" cy="296.6" r="2.5"/><circle cx="63.5" cy="298.3" r="2.5"/><circle cx="64.6" cy="300.9" r="2.5"/><circle cx="65.7" cy="301.7" r="2.5"/><circle cx="66.8" cy="304.6" r="2.5"/><circle cx="67.8" cy="307" r="2.5"/><circle cx="68.9" cy="307.2" r="2.5"/><circle cx="70" cy="312.8" r="2.5"/><circle cx="71.1" cy="311.1" r="2.5"/><circle cx="72.2" cy="311" r="2.5"/><circle cx="73.3" cy="312.7" r="2.5"/><circle cx="74.4" cy="315" r="2.5"/><circle cx="75.5" cy="319.2" r="2.5"/><circle cx="76.6" cy="317.4" r="2.5"/><circle cx="77.7" cy="318.5" r="2.5"/><circle cx="78.8" cy="316" r="2.5"/><circle cx="79.8" cy="318.7" r="2.5"/><circle cx="80.9" cy="321.9" r="2.5"/><circle cx="82" cy="324.5" r="2.5"/><circle cx="83.1" cy="321.7" r="2.5"/><circle cx="84.2" cy="323.1" r="2.5"/><circle cx="85.3" cy="334.2" r="2.5"/><circle cx="86.4" cy="323.5" r="2.5"/><circle cx="87.5" cy="326.2" r="2.5"/><circle cx="88.6" cy="331.1" r="2.5"/><circle cx="89.7" cy="329.6" r="2.5"/><circle cx="90.7" cy="328" r="2.5"/><circle cx="91.8" cy="328.3" r="2.5"/><circle cx="92.9" cy="330" r="2.5"/><circle cx="94" cy="333.3" r="2.5"/><circle cx="95.1" cy="330.7" r="2.5"/><circle cx="96.2" cy="331.5" r="2.5"/><circle cx="97.3" cy="333.7" r="2.5"/><circle cx="98.4" cy="335.9" r="2.5"/><circle cx="99.5" cy="331.9" r="2.5"/><circle cx="100.6" cy="339.9" r="2.5"/><circle cx="101.6" cy="333.7" r="2.5"/><circle cx="102.7" cy="334.8" r="2.5"/><circle cx="103.8" cy="329.3" r="2.5"/><circle cx="104.9" cy="339.1" r="2.5"/><circle cx="106" cy="344.7" r="2.5"/><circle cx="107.1" cy="350.4" r="2.5"/><circle cx="108.2" cy="343.6" r="2.5"/><circle cx="109.3" cy="336.5" r="2.5"/><circle cx="110.4" cy="333.3" r="2.5"/><circle cx="111.5" cy="336.5" r="2.5"/><circle cx="112.5" cy="335.9" r="2.5"/><circle cx="113.6" cy="345.9" r="2.5"/><circle cx="114.7" cy="348.7" r="2.5"/><circle cx="115.8" cy="342.5" r="2.5"/><circle cx="116.9" cy="348.7" r="2.5"/><circle cx="118" cy="343.6" r="2.5"/><circle cx="119.1" cy="345.9" r="2.5"/><circle cx="120.2" cy="347.2" r="2.5"/><circle cx="121.3" cy="352.4" r="2.5"/><circle cx="122.4" cy="338.4" r="2.5"/><circle cx="123.5" cy="342.5" r="2.5"/><circle cx="124.5" cy="354.7" r="2.5"/><circle cx="125.6" cy="354.7" r="2.5"/><circle cx="126.7" cy="350.4" r="2.5"/><circle cx="127.8" cy="352.4" r="2.5"/><circle cx="128.9" cy="366.3" r="2.5"/><circle cx="130" cy="348.7" r="2.5"/><circle cx="131.1" cy="350.4" r="2.5"/><circle cx="132.2" cy="344.7" r="2.5"/><circle cx="133.3" cy="357.5" r="2.5"/><circle cx="134.4" cy="352.4" r="2.5"/><circle cx="135.4" cy="361.2" r="2.5"/><circle cx="136.5" cy="352.4" r="2.5"/><circle cx="137.6" cy="348.7" r="2.5"/><circle cx="138.7" cy="357.5" r="2.5"/><circle cx="139.8" cy="345.9" r="2.5"/><circle cx="143.1" cy="354.7" r="2.5"/><circle cx="144.2" cy="357.5" r="2.5"/><circle cx="149.6" cy="352.4" r="2.5"/><circle cx="150.7" cy="361.2" r="2.5"/><circle cx="154" cy="357.5" r="2.5"/><circle cx="157.2" cy="357.5" r="2.5"/><circle cx="159.4" cy="350.4" r="2.5"/><circle cx="161.6" cy="357.5" r="2.5"/><circle cx="162.7" cy="357.5" r="2.5"/><circle cx="163.8" cy="361.2" r="2.5"/><circle cx="146.1" cy="375.1" r="2.5"/><circle cx="156.5" cy="375.1" r="2.5"/><circle cx="159.3" cy="375.1" r="2.5"/><circle cx="161.2" cy="375.1" r="2.5"/><circle cx="168.8" cy="375.1" r="2.5"/><circle cx="171.7" cy="375.1" r="2.5"/><circle cx="174.5" cy="375.1" r="2.5"/><circle cx="177.3" cy="375.1" r="2.5"/><circle cx="180.2" cy="375.1" r="2.5"/><circle cx="183" cy="375.1" r="2.5"/><circle cx="185.9" cy="375.1" r="2.5"/><circle cx="188.7" cy="375.1" r="2.5"/><circle cx="191.6" cy="375.1" r="2.5"/><circle cx="194.4" cy="375.1" r="2.5"/><circle cx="197.3" cy="375.1" r="2.5"/><circle cx="200.1" cy="375.1" r="2.5"/><circle cx="202.9" cy="375.1" r="2.5"/><circle cx="205.8" cy="375.1" r="2.5"/><circle cx="207.7" cy="375.1" r="2.5"/><circle cx="216.2" cy="375.1" r="2.5"/><circle cx="242.2" cy="375.1" r="2.5"/><circle cx="139.4" cy="366.3" r="2.5"/><circle cx="144.6" cy="366.3" r="2.5"/><circle cx="151.3" cy="366.3" r="2.5"/><circle cx="155.5" cy="366.3" r="2.5"/><circle cx="159.8" cy="366.3" r="2.5"/><circle cx="163.1" cy="366.3" r="2.5"/><circle cx="166.9" cy="366.3" r="2.5"/><circle cx="203.9" cy="366.3" r="2.5"/></g>
<path d="M56 256.3L56.9 268.9L57.9 277.1L58.8 282.7L59.8 287L60.7 290.5L61.7 293.5L62.6 296.1L63.6 298.3L64.5 300.3L65.5 302L66.4 303.5L67.4 304.9L68.3 306.2L69.3 307.4L70.2 308.7L71.2 309.9L72.1 311.1L73.1 312.3L74 313.4L75 314.5L75.9 315.6L76.9 316.6L77.8 317.6L78.8 318.6L79.7 319.5L80.6 320.4L81.6 321.4L82.5 322.2L83.5 323.1L84.4 323.9L85.4 324.6L86.3 325.3L87.3 326L88.2 326.7L89.2 327.3L90.1 328L91.1 328.6L92 329.2L93 329.7L93.9 330.3L94.9 330.9L95.8 331.5L96.8 332L97.7 332.5L98.7 333L99.6 333.6L100.6 334.1L101.5 334.6L102.5 335.1L103.4 335.6L104.3 336.1L105.3 336.6L106.2 337.1L107.2 337.6L108.1 338.1L109.1 338.6L110 339.1L111 339.6L111.9 340.1L112.9 340.6L113.8 341.1L114.8 341.6L115.7 342L116.7 342.5L117.6 343L118.6 343.5L119.5 344L120.5 344.5L121.4 345L122.4 345.5L123.3 346L124.3 346.5L125.2 346.9L126.2 347.4L127.1 347.9L128 348.3L129 348.8L129.9 349.2L130.9 349.7L131.8 350.1L132.8 350.6L133.7 351L134.7 351.4L135.6 351.9L136.6 352.3L137.5 352.7L138.5 353.1L139.4 353.5L140.4 353.9L141.3 354.3L142.3 354.7L143.2 355.1L144.2 355.4L145.1 355.8L146.1 356.1L147 356.5L148 356.8L148.9 357.2L149.9 357.5L150.8 357.9L151.7 358.2L152.7 358.5L153.6 358.9L154.6 359.2L155.5 359.6L156.5 359.9L157.4 360.3L158.4 360.6L159.3 361L160.3 361.3L161.2 361.6L162.2 362L163.1 362.3L164.1 362.7L165 363L166 363.4L166.9 363.7L167.9 364.1L168.8 364.5L169.8 364.9L170.7 365.2L171.7 365.6L172.6 366L173.6 366.4L174.5 366.8L175.4 367.2L176.4 367.6L177.3 367.9L178.3 368.3L179.2 368.7L180.2 369.1L181.1 369.5L182.1 369.9L183 370.3L184 370.6L184.9 371L185.9 371.3L186.8 371.7L187.8 372.1L188.7 372.4L189.7 372.7L190.6 373.1L191.6 373.4L192.5 373.7L193.5 374L194.4 374.3L195.4 374.7L196.3 375L197.3 375.3L198.2 375.6L199.1 375.9L200.1 376.2L201 376.5L202 376.8L202.9 377.1L203.9 377.4L204.8 377.7L205.8 378L206.7 378.3L207.7 378.6L208.6 378.9L209.6 379.2L210.5 379.5L211.5 379.8L212.4 380.1L213.4 380.4L214.3 380.7L215.3 380.9L216.2 381.2L217.2 381.5L218.1 381.8L219.1 382.1L220 382.4L221 382.6L221.9 382.9L222.8 383.2L223.8 383.5L224.7 383.7L225.7 384L226.6 384.3L227.6 384.5L228.5 384.8L229.5 385.1L230.4 385.3L231.4 385.6L232.3 385.8L233.3 386.1L234.2 386.4L235.2 386.6L236.1 386.9L237.1 387.1L238 387.4L239 387.6L239.9 387.9L240.9 388.1L241.8 388.4L242.8 388.6L243.7 388.8L244.7 389.1L245.6 389.3L246.5 389.6L247.5 389.8L248.4 390.1L249.4 390.3L250.3 390.5L251.3 390.8L252.2 391L253.2 391.3L254.1 391.5L255.1 391.8L256 392L257 392.2L257.9 392.5L258.9 392.7L259.8 392.9L260.8 393.2L261 393.2" fill="none" stroke="#4f77b0" stroke-width="1.1" stroke-linejoin="round"/>
<text x="173.3" y="419.4" font-size="22" font-style="italic" fill="#3a3a3a" text-anchor="middle">ℓ</text>
<text transform="translate(18 320) rotate(-90)" font-size="19" fill="#222" text-anchor="middle"><tspan font-style="italic">f</tspan>(<tspan font-style="italic">ℓ</tspan>)</text>
<path d="M160 298.1H202.7" stroke="#5f6fb5" stroke-width="1.15"/>
<circle cx="181.1" cy="320.2" r="3.5" fill="none" stroke="#4f77b0" stroke-width="1.1"/>
<text x="221.5" y="303.9" font-size="20.7" stroke="#000" stroke-width="0.15">Eq. (6)</text>
<text x="221.5" y="327.2" font-size="20.7" stroke="#000" stroke-width="0.15">ED</text>
<text x="208.2" y="358.9" font-size="22.5" stroke="#000" stroke-width="0.15">N<tspan font-size="15" dy="3.5">c</tspan><tspan dy="-3.5">=2.5M</tspan></text>
<text x="82.2" y="297.3" font-size="17.5" textLength="41.6" lengthAdjust="spacingAndGlyphs" stroke="#111" stroke-width="0.45">log-convex</text>
<path d="M356 246.1V393.4H592.7" fill="none" stroke="#5a5a5a" stroke-width="1.2"/>
<path d="M356 393.4v-2.7M365.5 393.4v-1.6M374.9 393.4v-1.6M384.4 393.4v-1.6M393.9 393.4v-1.6M403.3 393.4v-2.7M412.8 393.4v-1.6M422.3 393.4v-1.6M431.7 393.4v-1.6M441.2 393.4v-1.6M450.7 393.4v-2.7M460.1 393.4v-1.6M469.6 393.4v-1.6M479.1 393.4v-1.6M488.6 393.4v-1.6M498 393.4v-2.7M507.5 393.4v-1.6M517 393.4v-1.6M526.4 393.4v-1.6M535.9 393.4v-1.6M545.4 393.4v-2.7M554.8 393.4v-1.6M564.3 393.4v-1.6M573.8 393.4v-1.6M583.2 393.4v-1.6M592.7 393.4v-2.7M356 247.1h2.7M356 276.4h2.7M356 267.6h1.6M356 262.4h1.6M356 258.7h1.6M356 255.9h1.6M356 253.6h1.6M356 251.6h1.6M356 249.9h1.6M356 248.4h1.6M356 305.6h2.7M356 296.8h1.6M356 291.7h1.6M356 288h1.6M356 285.2h1.6M356 282.9h1.6M356 280.9h1.6M356 279.2h1.6M356 277.7h1.6M356 334.9h2.7M356 326.1h1.6M356 320.9h1.6M356 317.3h1.6M356 314.5h1.6M356 312.1h1.6M356 310.2h1.6M356 308.5h1.6M356 307h1.6M356 364.2h2.7M356 355.4h1.6M356 350.2h1.6M356 346.6h1.6M356 343.7h1.6M356 341.4h1.6M356 339.4h1.6M356 337.7h1.6M356 336.2h1.6M356 393.4h2.7M356 384.6h1.6M356 379.5h1.6M356 375.8h1.6M356 373h1.6M356 370.7h1.6M356 368.7h1.6M356 367h1.6M356 365.5h1.6" fill="none" stroke="#5a5a5a" stroke-width="1.0"/>
<g font-size="14" fill="#4c4c4c"><text x="352.6" y="406.6" textLength="6.3" lengthAdjust="spacingAndGlyphs">0</text><text x="397.6" y="406.6" textLength="10.9" lengthAdjust="spacingAndGlyphs">50</text><text x="442.2" y="406.6" textLength="16.4" lengthAdjust="spacingAndGlyphs">100</text><text x="489.5" y="406.6" textLength="16.4" lengthAdjust="spacingAndGlyphs">150</text><text x="536.9" y="406.6" textLength="16.4" lengthAdjust="spacingAndGlyphs">200</text><text x="584.2" y="406.6" textLength="16.4" lengthAdjust="spacingAndGlyphs">250</text><text x="352.6" y="251.4" text-anchor="end">1</text><text x="326" y="280.7" textLength="26.6" lengthAdjust="spacingAndGlyphs">0.100</text><text x="326" y="309.9" textLength="26.6" lengthAdjust="spacingAndGlyphs">0.010</text><text x="326" y="339.2" textLength="26.6" lengthAdjust="spacingAndGlyphs">0.001</text><text x="331.6" y="368.5" textLength="11.0" lengthAdjust="spacingAndGlyphs">10</text><text x="343.6" y="363.3" font-size="10" textLength="10" lengthAdjust="spacingAndGlyphs">−4</text><text x="331.6" y="397.8" textLength="11.0" lengthAdjust="spacingAndGlyphs">10</text><text x="343.6" y="392.6" font-size="10" textLength="10" lengthAdjust="spacingAndGlyphs">−5</text></g>
<clipPath id="cp4"><rect x="355.7" y="239.1" width="237.6" height="155.8"/></clipPath>
<g fill="none" stroke="#4f77b0" stroke-width="1.1" clip-path="url(#cp4)"><circle cx="356" cy="262" r="2.5"/><circle cx="357.5" cy="283.7" r="2.5"/><circle cx="359.7" cy="294.5" r="2.5"/><circle cx="361.9" cy="300.5" r="2.5"/><circle cx="364" cy="307.5" r="2.5"/><circle cx="366.2" cy="310" r="2.5"/><circle cx="368.4" cy="316.3" r="2.5"/><circle cx="370.6" cy="318.7" r="2.5"/><circle cx="372.8" cy="322.1" r="2.5"/><circle cx="374.9" cy="323.7" r="2.5"/><circle cx="377.1" cy="327" r="2.5"/><circle cx="379.3" cy="329.6" r="2.5"/><circle cx="381.5" cy="329.6" r="2.5"/><circle cx="383.6" cy="331" r="2.5"/><circle cx="385.8" cy="335" r="2.5"/><circle cx="388" cy="334.8" r="2.5"/><circle cx="390.2" cy="337.8" r="2.5"/><circle cx="392.4" cy="338.2" r="2.5"/><circle cx="394.5" cy="339.3" r="2.5"/><circle cx="396.7" cy="344.2" r="2.5"/><circle cx="398.9" cy="342.1" r="2.5"/><circle cx="401.1" cy="346.7" r="2.5"/><circle cx="403.2" cy="348.1" r="2.5"/><circle cx="405.4" cy="347.9" r="2.5"/><circle cx="407.6" cy="355.7" r="2.5"/><circle cx="409.8" cy="355.5" r="2.5"/><circle cx="412" cy="349.5" r="2.5"/><circle cx="414.1" cy="348.8" r="2.5"/><circle cx="416.3" cy="348.9" r="2.5"/><circle cx="418.5" cy="356.8" r="2.5"/><circle cx="420.7" cy="351.9" r="2.5"/><circle cx="422.8" cy="348.4" r="2.5"/><circle cx="425" cy="351.5" r="2.5"/><circle cx="427.2" cy="365.9" r="2.5"/><circle cx="429.4" cy="368.7" r="2.5"/><circle cx="431.6" cy="358.3" r="2.5"/><circle cx="433.7" cy="354.7" r="2.5"/><circle cx="435.9" cy="362.3" r="2.5"/><circle cx="438.1" cy="358" r="2.5"/><circle cx="440.3" cy="362.5" r="2.5"/><circle cx="442.4" cy="363.5" r="2.5"/><circle cx="444.6" cy="363.9" r="2.5"/><circle cx="446.8" cy="365.1" r="2.5"/><circle cx="449" cy="369.2" r="2.5"/><circle cx="470.2" cy="386.7" r="2.5"/><circle cx="478.2" cy="386.7" r="2.5"/><circle cx="483.2" cy="386.7" r="2.5"/><circle cx="489.6" cy="386.7" r="2.5"/><circle cx="495.4" cy="386.7" r="2.5"/><circle cx="499.6" cy="386.7" r="2.5"/><circle cx="504.6" cy="386.7" r="2.5"/><circle cx="511" cy="386.7" r="2.5"/><circle cx="517.2" cy="386.7" r="2.5"/><circle cx="541.1" cy="386.7" r="2.5"/><circle cx="546.1" cy="386.7" r="2.5"/><circle cx="549.9" cy="386.7" r="2.5"/><circle cx="553.7" cy="386.7" r="2.5"/><circle cx="556.2" cy="386.7" r="2.5"/><circle cx="559.3" cy="386.7" r="2.5"/><circle cx="568.8" cy="386.7" r="2.5"/><circle cx="573.1" cy="386.7" r="2.5"/><circle cx="576.3" cy="386.7" r="2.5"/><circle cx="578.9" cy="386.7" r="2.5"/><circle cx="588.4" cy="386.7" r="2.5"/><circle cx="590.7" cy="386.7" r="2.5"/><circle cx="451.8" cy="377.9" r="2.5"/><circle cx="459.4" cy="377.9" r="2.5"/><circle cx="465.6" cy="377.9" r="2.5"/><circle cx="480.2" cy="377.9" r="2.5"/><circle cx="485.8" cy="377.9" r="2.5"/><circle cx="490.8" cy="377.9" r="2.5"/><circle cx="497.1" cy="377.9" r="2.5"/><circle cx="502.2" cy="377.9" r="2.5"/><circle cx="507.2" cy="377.9" r="2.5"/><circle cx="512.2" cy="377.9" r="2.5"/><circle cx="518" cy="377.9" r="2.5"/><circle cx="521.7" cy="377.9" r="2.5"/><circle cx="523.6" cy="377.9" r="2.5"/><circle cx="532.3" cy="377.9" r="2.5"/><circle cx="535.6" cy="377.9" r="2.5"/><circle cx="549.4" cy="377.9" r="2.5"/><circle cx="581.3" cy="377.9" r="2.5"/><circle cx="586.5" cy="377.9" r="2.5"/><circle cx="481.9" cy="372.7" r="2.5"/><circle cx="493.8" cy="372.7" r="2.5"/><circle cx="524.7" cy="372.7" r="2.5"/><circle cx="527.3" cy="372.7" r="2.5"/><circle cx="446.9" cy="380.3" r="2.5"/><circle cx="454.5" cy="380.3" r="2.5"/><circle cx="461.1" cy="380.3" r="2.5"/><circle cx="450.6" cy="360.7" r="2.5"/><circle cx="457.6" cy="363.6" r="2.5"/><circle cx="461.9" cy="367.7" r="2.5"/><circle cx="464.4" cy="368.3" r="2.5"/><circle cx="455.6" cy="368.3" r="2.5"/><circle cx="473.2" cy="363.6" r="2.5"/><circle cx="475.8" cy="367.7" r="2.5"/><circle cx="453" cy="373" r="2.5"/><circle cx="467.7" cy="373" r="2.5"/></g>
<path d="M356 262L356.9 276.6L357.9 285.7L358.8 290.3L359.8 294.2L360.7 297.5L361.7 300.4L362.6 302.7L363.6 304.8L364.5 306.7L365.5 308.6L366.4 310.5L367.4 312.3L368.3 314.1L369.3 315.8L370.2 317.3L371.1 318.9L372.1 320.3L373 321.7L374 322.9L374.9 324.1L375.9 325.1L376.8 326.1L377.8 327L378.7 327.9L379.7 328.8L380.6 329.6L381.6 330.4L382.5 331.1L383.5 331.8L384.4 332.6L385.4 333.3L386.3 334L387.2 334.6L388.2 335.3L389.1 335.9L390.1 336.5L391 337.1L392 337.6L392.9 338.2L393.9 338.7L394.8 339.2L395.8 339.7L396.7 340.1L397.7 340.6L398.6 341L399.6 341.4L400.5 341.8L401.4 342.2L402.4 342.7L403.3 343.1L404.3 343.6L405.2 344.1L406.2 344.6L407.1 345.1L408.1 345.6L409 346.1L410 346.6L410.9 347.1L411.9 347.6L412.8 348.1L413.8 348.5L414.7 349L415.6 349.4L416.6 349.9L417.5 350.3L418.5 350.7L419.4 351.2L420.4 351.6L421.3 352L422.3 352.4L423.2 352.8L424.2 353.2L425.1 353.6L426.1 354L427 354.4L428 354.8L428.9 355.2L429.9 355.6L430.8 356L431.7 356.4L432.7 356.8L433.6 357.2L434.6 357.5L435.5 357.9L436.5 358.3L437.4 358.6L438.4 359L439.3 359.4L440.3 359.7L441.2 360.1L442.2 360.4L443.1 360.8L444.1 361.1L445 361.5L445.9 361.8L446.9 362.2L447.8 362.5L448.8 362.8L449.7 363.2L450.7 363.5L451.6 363.8L452.6 364.2L453.5 364.5L454.5 364.8L455.4 365.2L456.4 365.5L457.3 365.8L458.3 366.1L459.2 366.5L460.1 366.8L461.1 367.1L462 367.4L463 367.8L463.9 368.1L464.9 368.4L465.8 368.7L466.8 369L467.7 369.4L468.7 369.7L469.6 370L470.6 370.4L471.5 370.7L472.5 371L473.4 371.4L474.4 371.7L475.3 372.1L476.2 372.4L477.2 372.7L478.1 373.1L479.1 373.4L480 373.8L481 374.1L481.9 374.4L482.9 374.8L483.8 375.1L484.8 375.5L485.7 375.8L486.7 376.2L487.6 376.5L488.6 376.9L489.5 377.2L490.4 377.6L491.4 377.9L492.3 378.2L493.3 378.6L494.2 378.9L495.2 379.3L496.1 379.6L497.1 379.9L498 380.3L499 380.6L499.9 380.9L500.9 381.3L501.8 381.6L502.8 381.9L503.7 382.3L504.6 382.6L505.6 382.9L506.5 383.2L507.5 383.5L508.4 383.8L509.4 384.1L510.3 384.4L511.3 384.6L512.2 384.9L513.2 385.2L514.1 385.4L515.1 385.7L516 386L517 386.2L517.9 386.5L518.8 386.7L519.8 387L520.7 387.2L521.7 387.4L522.6 387.7L523.6 387.9L524.5 388.1L525.5 388.4L526.4 388.6L527.4 388.9L528.3 389.1L529.3 389.3L530.2 389.5L531.2 389.8L532.1 390L533.1 390.2L534 390.4L534.9 390.7L535.9 390.9L536.8 391.1L537.8 391.3L538.7 391.5L539.7 391.8L540.6 392L541.6 392.2L542.5 392.4L543.5 392.6L544.4 392.8L545.4 393L546.3 393.2L547.3 393.4L548.2 393.7L549.1 393.9L550.1 394.1L551 394.3L552 394.5L552.9 394.7L553.9 394.9L554 394.9" fill="none" stroke="#4f77b0" stroke-width="1.1" stroke-linejoin="round"/>
<text x="477.7" y="418.4" font-size="22" font-style="italic" fill="#3a3a3a" text-anchor="middle">ℓ</text>
<text transform="translate(321.5 318) rotate(-90)" font-size="19" fill="#222" text-anchor="middle"><tspan font-style="italic">f</tspan>(<tspan font-style="italic">ℓ</tspan>)</text>
<path d="M463 295.1H504.9" stroke="#5f6fb5" stroke-width="1.15"/>
<circle cx="484.1" cy="316.9" r="3.5" fill="none" stroke="#4f77b0" stroke-width="1.1"/>
<text x="524.2" y="300.6" font-size="20.7" stroke="#000" stroke-width="0.15">Eq. (6)</text>
<text x="524.2" y="324" font-size="20.7" stroke="#000" stroke-width="0.15">ED</text>
<text x="481.1" y="350.3" font-size="22.5" stroke="#000" stroke-width="0.15">N<tspan font-size="15" dy="3.5">c</tspan><tspan dy="-3.5">=3M</tspan></text>
<text x="377" y="288.6" font-size="17.5" textLength="41.1" lengthAdjust="spacingAndGlyphs" stroke="#111" stroke-width="0.45">log-convex</text>
<path d="M56 428.6V575.7H292.5" fill="none" stroke="#5a5a5a" stroke-width="1.2"/>
<path d="M56 575.7v-2.7M65.5 575.7v-1.6M74.9 575.7v-1.6M84.4 575.7v-1.6M93.8 575.7v-1.6M103.3 575.7v-2.7M112.8 575.7v-1.6M122.2 575.7v-1.6M131.7 575.7v-1.6M141.1 575.7v-1.6M150.6 575.7v-2.7M160.1 575.7v-1.6M169.5 575.7v-1.6M179 575.7v-1.6M188.4 575.7v-1.6M197.9 575.7v-2.7M207.4 575.7v-1.6M216.8 575.7v-1.6M226.3 575.7v-1.6M235.7 575.7v-1.6M245.2 575.7v-2.7M254.7 575.7v-1.6M264.1 575.7v-1.6M273.6 575.7v-1.6M283 575.7v-1.6M292.5 575.7v-2.7M56 429.6h2.7M56 458.8h2.7M56 450h1.6M56 444.9h1.6M56 441.2h1.6M56 438.4h1.6M56 436.1h1.6M56 434.1h1.6M56 432.4h1.6M56 430.9h1.6M56 488h2.7M56 479.2h1.6M56 474.1h1.6M56 470.4h1.6M56 467.6h1.6M56 465.3h1.6M56 463.3h1.6M56 461.7h1.6M56 460.2h1.6M56 517.3h2.7M56 508.5h1.6M56 503.3h1.6M56 499.7h1.6M56 496.8h1.6M56 494.5h1.6M56 492.6h1.6M56 490.9h1.6M56 489.4h1.6M56 546.5h2.7M56 537.7h1.6M56 532.5h1.6M56 528.9h1.6M56 526.1h1.6M56 523.7h1.6M56 521.8h1.6M56 520.1h1.6M56 518.6h1.6M56 575.7h2.7M56 566.9h1.6M56 561.8h1.6M56 558.1h1.6M56 555.3h1.6M56 553h1.6M56 551h1.6M56 549.3h1.6M56 547.8h1.6" fill="none" stroke="#5a5a5a" stroke-width="1.0"/>
<g font-size="14" fill="#4c4c4c"><text x="52.6" y="588.9" textLength="6.3" lengthAdjust="spacingAndGlyphs">0</text><text x="97.5" y="588.9" textLength="10.9" lengthAdjust="spacingAndGlyphs">50</text><text x="142.1" y="588.9" textLength="16.4" lengthAdjust="spacingAndGlyphs">100</text><text x="189.4" y="588.9" textLength="16.4" lengthAdjust="spacingAndGlyphs">150</text><text x="236.7" y="588.9" textLength="16.4" lengthAdjust="spacingAndGlyphs">200</text><text x="284" y="588.9" textLength="16.4" lengthAdjust="spacingAndGlyphs">250</text><text x="52.6" y="433.9" text-anchor="end">1</text><text x="26" y="463.1" textLength="26.6" lengthAdjust="spacingAndGlyphs">0.100</text><text x="26" y="492.3" textLength="26.6" lengthAdjust="spacingAndGlyphs">0.010</text><text x="26" y="521.6" textLength="26.6" lengthAdjust="spacingAndGlyphs">0.001</text><text x="31.6" y="550.8" textLength="11.0" lengthAdjust="spacingAndGlyphs">10</text><text x="43.6" y="545.6" font-size="10" textLength="10" lengthAdjust="spacingAndGlyphs">−4</text><text x="31.6" y="580" textLength="11.0" lengthAdjust="spacingAndGlyphs">10</text><text x="43.6" y="574.8" font-size="10" textLength="10" lengthAdjust="spacingAndGlyphs">−5</text></g>
<clipPath id="cp5"><rect x="55.7" y="421.6" width="237.4" height="155.6"/></clipPath>
<g fill="none" stroke="#4f77b0" stroke-width="1.1" clip-path="url(#cp5)"><circle cx="56" cy="452.1" r="2.5"/><circle cx="60.9" cy="488.6" r="2.5"/><circle cx="65.9" cy="501.2" r="2.5"/><circle cx="70.6" cy="509.7" r="2.5"/><circle cx="75.6" cy="518.4" r="2.5"/><circle cx="80.6" cy="523.4" r="2.5"/><circle cx="85.6" cy="525.7" r="2.5"/><circle cx="90.5" cy="529.5" r="2.5"/><circle cx="95.5" cy="531.6" r="2.5"/><circle cx="100.6" cy="530.1" r="2.5"/><circle cx="105.5" cy="539.5" r="2.5"/><circle cx="111" cy="543.6" r="2.5"/><circle cx="116" cy="537.1" r="2.5"/><circle cx="121" cy="545.6" r="2.5"/><circle cx="125.9" cy="543.3" r="2.5"/><circle cx="130.9" cy="545.6" r="2.5"/><circle cx="135.9" cy="550.3" r="2.5"/><circle cx="140.9" cy="547.4" r="2.5"/><circle cx="146.2" cy="542.7" r="2.5"/><circle cx="150.9" cy="560.8" r="2.5"/><circle cx="156.7" cy="550.6" r="2.5"/><circle cx="161.7" cy="551.7" r="2.5"/><circle cx="166.7" cy="555.5" r="2.5"/><circle cx="171.7" cy="552.9" r="2.5"/><circle cx="176.7" cy="555.5" r="2.5"/><circle cx="181.7" cy="557.6" r="2.5"/><circle cx="186.7" cy="557.6" r="2.5"/><circle cx="191.8" cy="560.5" r="2.5"/><circle cx="196.8" cy="560.5" r="2.5"/><circle cx="207.3" cy="560.2" r="2.5"/><circle cx="212.3" cy="569.9" r="2.5"/><circle cx="222.3" cy="564.6" r="2.5"/><circle cx="227.9" cy="564.6" r="2.5"/><circle cx="242.4" cy="569.9" r="2.5"/><circle cx="247.4" cy="564.6" r="2.5"/><circle cx="258" cy="560.2" r="2.5"/><circle cx="273" cy="575.7" r="2.5"/><circle cx="292.1" cy="570.1" r="2.5"/></g>
<path d="M57.7 485.4L58.6 487L59.6 488.6L60.5 490.3L61.5 492L62.4 494L63.4 496L64.3 498L65.3 499.9L66.2 501.7L67.2 503.4L68.1 505L69.1 506.6L70 508.2L70.9 509.7L71.9 511.2L72.8 512.8L73.8 514.2L74.7 515.6L75.7 516.8L76.6 517.9L77.6 518.9L78.5 519.8L79.5 520.7L80.4 521.5L81.4 522.3L82.3 523L83.2 523.8L84.2 524.5L85.1 525.2L86.1 525.8L87 526.5L88 527.1L88.9 527.7L89.9 528.3L90.8 528.8L91.8 529.3L92.7 529.8L93.7 530.3L94.6 530.8L95.5 531.3L96.5 531.7L97.4 532.2L98.4 532.6L99.3 533L100.3 533.4L101.2 533.9L102.2 534.3L103.1 534.7L104.1 535.1L105 535.5L105.9 536L106.9 536.4L107.8 536.8L108.8 537.2L109.7 537.5L110.7 537.9L111.6 538.3L112.6 538.7L113.5 539L114.5 539.4L115.4 539.7L116.4 540.1L117.3 540.4L118.2 540.8L119.2 541.1L120.1 541.4L121.1 541.7L122 542L123 542.3L123.9 542.6L124.9 542.9L125.8 543.2L126.8 543.5L127.7 543.8L128.7 544L129.6 544.3L130.5 544.6L131.5 544.8L132.4 545.1L133.4 545.3L134.3 545.6L135.3 545.8L136.2 546L137.2 546.3L138.1 546.5L139.1 546.7L140 547L141 547.2L141.9 547.4L142.8 547.6L143.8 547.8L144.7 548.1L145.7 548.3L146.6 548.5L147.6 548.7L148.5 548.9L149.5 549.1L150.4 549.4L151.4 549.6L152.3 549.8L153.2 550L154.2 550.2L155.1 550.4L156.1 550.6L157 550.8L158 551L158.9 551.2L159.9 551.5L160.8 551.7L161.8 551.9L162.7 552.1L163.7 552.3L164.6 552.5L165.5 552.6L166.5 552.8L167.4 553L168.4 553.2L169.3 553.4L170.3 553.6L171.2 553.8L172.2 554L173.1 554.2L174.1 554.3L175 554.5L176 554.7L176.9 554.9L177.8 555L178.8 555.2L179.7 555.4L180.7 555.5L181.6 555.7L182.6 555.9L183.5 556L184.5 556.2L185.4 556.4L186.4 556.5L187.3 556.7L188.3 556.8L189.2 557L190.1 557.2L191.1 557.3L192 557.5L193 557.6L193.9 557.8L194.9 558L195.8 558.1L196.8 558.3L197.7 558.4L198.7 558.6L199.6 558.7L200.5 558.9L201.5 559.1L202.4 559.2L203.4 559.4L204.3 559.5L205.3 559.7L206.2 559.9L207.2 560L208.1 560.2L209.1 560.3L210 560.5L211 560.7L211.9 560.8L212.8 561L213.8 561.1L214.7 561.3L215.7 561.4L216.6 561.6L217.6 561.7L218.5 561.9L219.5 562L220.4 562.2L221.4 562.3L222.3 562.5L223.3 562.6L224.2 562.7L225.1 562.9L226.1 563L227 563.2L228 563.3L228.9 563.4L229.9 563.5L230.8 563.7L231.8 563.8L232.7 563.9L233.7 564L234.6 564.2L235.6 564.3L236.5 564.4L237.4 564.5L238.4 564.6L239.3 564.8L240.3 564.9L241.2 565L242.2 565.1L243.1 565.2L244.1 565.4L245 565.5L246 565.6L246.9 565.7L247.8 565.8L248.8 565.9L249.7 566L250.7 566.2L251.6 566.3L252.6 566.4L253.5 566.5L254.5 566.6L255.4 566.7L256.4 566.8L257.3 567L258.3 567.1L259.2 567.2L260.1 567.3L261.1 567.4L262 567.5L263 567.6L263.9 567.7L264.9 567.9L265.8 568L266.8 568.1L267.7 568.2L268.7 568.3L269.6 568.4L270.6 568.5L271.5 568.6L272.4 568.7L273.4 568.8L274.3 568.9L275.3 569L276.2 569.1L277.2 569.3L278.1 569.4L279.1 569.5L280 569.6L281 569.7L281.9 569.8L282.9 569.9L283.8 570L284.7 570.1L285.7 570.2L286.6 570.4L287.6 570.5L288.5 570.6L289.5 570.7L290.4 570.8L291.4 570.9L292.3 571" fill="none" stroke="#4f77b0" stroke-width="1.1" stroke-linejoin="round"/>
<text x="171" y="602" font-size="22" font-style="italic" fill="#3a3a3a" text-anchor="middle">ℓ</text>
<text transform="translate(15.5 501.5) rotate(-90)" font-size="19" fill="#222" text-anchor="middle"><tspan font-style="italic">f</tspan>(<tspan font-style="italic">ℓ</tspan>)</text>
<path d="M163 475.6H205.2" stroke="#5f6fb5" stroke-width="1.15"/>
<circle cx="184.4" cy="498.2" r="3.5" fill="none" stroke="#4f77b0" stroke-width="1.1"/>
<text x="224" y="481.4" font-size="20.7" stroke="#000" stroke-width="0.15">Eq. (6)</text>
<text x="224" y="505.2" font-size="20.7" stroke="#000" stroke-width="0.15">ED</text>
<text x="174.3" y="538.9" font-size="22.5" stroke="#000" stroke-width="0.15">N<tspan font-size="15" dy="3.5">c</tspan><tspan dy="-3.5">=3.5M</tspan></text>
<text x="72.3" y="478.9" font-size="17.5" textLength="42" lengthAdjust="spacingAndGlyphs" stroke="#111" stroke-width="0.45">log-convex</text>
<path d="M356 428.2V575.7H593.5" fill="none" stroke="#5a5a5a" stroke-width="1.2"/>
<path d="M356 575.7v-2.7M365.5 575.7v-1.6M375 575.7v-1.6M384.5 575.7v-1.6M394 575.7v-1.6M403.5 575.7v-2.7M413 575.7v-1.6M422.5 575.7v-1.6M432 575.7v-1.6M441.5 575.7v-1.6M451 575.7v-2.7M460.5 575.7v-1.6M470 575.7v-1.6M479.5 575.7v-1.6M489 575.7v-1.6M498.5 575.7v-2.7M508 575.7v-1.6M517.5 575.7v-1.6M527 575.7v-1.6M536.5 575.7v-1.6M546 575.7v-2.7M555.5 575.7v-1.6M565 575.7v-1.6M574.5 575.7v-1.6M584 575.7v-1.6M593.5 575.7v-2.7M356 429.2h2.7M356 458.5h2.7M356 449.7h1.6M356 444.5h1.6M356 440.9h1.6M356 438h1.6M356 435.7h1.6M356 433.7h1.6M356 432h1.6M356 430.5h1.6M356 487.8h2.7M356 479h1.6M356 473.8h1.6M356 470.2h1.6M356 467.3h1.6M356 465h1.6M356 463h1.6M356 461.3h1.6M356 459.8h1.6M356 517.1h2.7M356 508.3h1.6M356 503.1h1.6M356 499.5h1.6M356 496.6h1.6M356 494.3h1.6M356 492.3h1.6M356 490.6h1.6M356 489.1h1.6M356 546.4h2.7M356 537.6h1.6M356 532.4h1.6M356 528.8h1.6M356 525.9h1.6M356 523.6h1.6M356 521.6h1.6M356 519.9h1.6M356 518.4h1.6M356 575.7h2.7M356 566.9h1.6M356 561.7h1.6M356 558.1h1.6M356 555.2h1.6M356 552.9h1.6M356 550.9h1.6M356 549.2h1.6M356 547.7h1.6" fill="none" stroke="#5a5a5a" stroke-width="1.0"/>
<g font-size="14" fill="#4c4c4c"><text x="352.6" y="588.9" textLength="6.3" lengthAdjust="spacingAndGlyphs">0</text><text x="397.7" y="588.9" textLength="10.9" lengthAdjust="spacingAndGlyphs">50</text><text x="442.5" y="588.9" textLength="16.4" lengthAdjust="spacingAndGlyphs">100</text><text x="490" y="588.9" textLength="16.4" lengthAdjust="spacingAndGlyphs">150</text><text x="537.5" y="588.9" textLength="16.4" lengthAdjust="spacingAndGlyphs">200</text><text x="585" y="588.9" textLength="16.4" lengthAdjust="spacingAndGlyphs">250</text><text x="352.6" y="433.5" text-anchor="end">1</text><text x="326" y="462.8" textLength="26.6" lengthAdjust="spacingAndGlyphs">0.100</text><text x="326" y="492.1" textLength="26.6" lengthAdjust="spacingAndGlyphs">0.010</text><text x="326" y="521.4" textLength="26.6" lengthAdjust="spacingAndGlyphs">0.001</text><text x="331.6" y="550.7" textLength="11.0" lengthAdjust="spacingAndGlyphs">10</text><text x="343.6" y="545.5" font-size="10" textLength="10" lengthAdjust="spacingAndGlyphs">−4</text><text x="331.6" y="580" textLength="11.0" lengthAdjust="spacingAndGlyphs">10</text><text x="343.6" y="574.8" font-size="10" textLength="10" lengthAdjust="spacingAndGlyphs">−5</text></g>
<clipPath id="cp6"><rect x="355.7" y="421.2" width="238.4" height="156"/></clipPath>
<g fill="none" stroke="#4f77b0" stroke-width="1.1" clip-path="url(#cp6)"><circle cx="356" cy="457" r="2.5"/><circle cx="364.1" cy="523.8" r="2.5"/><circle cx="372.4" cy="531.2" r="2.5"/><circle cx="380.9" cy="535.6" r="2.5"/><circle cx="389.2" cy="544.9" r="2.5"/><circle cx="398" cy="543.5" r="2.5"/><circle cx="406.8" cy="550.5" r="2.5"/><circle cx="415.1" cy="547.3" r="2.5"/><circle cx="423.6" cy="559.6" r="2.5"/><circle cx="432.5" cy="544.9" r="2.5"/><circle cx="440.7" cy="549.6" r="2.5"/><circle cx="449.6" cy="555.5" r="2.5"/><circle cx="457" cy="557.5" r="2.5"/><circle cx="465.7" cy="555.8" r="2.5"/><circle cx="474.6" cy="562.5" r="2.5"/><circle cx="482.8" cy="559.6" r="2.5"/><circle cx="491.4" cy="562.5" r="2.5"/><circle cx="500.2" cy="559.6" r="2.5"/><circle cx="525.6" cy="562.5" r="2.5"/><circle cx="551.2" cy="566.3" r="2.5"/><circle cx="559.5" cy="566.3" r="2.5"/><circle cx="568" cy="562.5" r="2.5"/><circle cx="576.9" cy="571.3" r="2.5"/><circle cx="585.7" cy="571.3" r="2.5"/></g>
<path d="M360.4 518.3L361.3 519.4L362.3 520.6L363.2 521.8L364.2 522.9L365.1 524L366.1 525L367 526L368 526.9L368.9 527.8L369.9 528.7L370.8 529.6L371.8 530.4L372.7 531.2L373.7 532L374.6 532.7L375.6 533.3L376.5 534L377.5 534.6L378.4 535.2L379.4 535.8L380.3 536.3L381.3 536.8L382.2 537.4L383.2 537.9L384.1 538.4L385.1 538.8L386 539.3L387 539.8L387.9 540.2L388.9 540.7L389.8 541.1L390.8 541.6L391.7 542L392.7 542.4L393.6 542.9L394.6 543.3L395.5 543.7L396.5 544.1L397.4 544.4L398.4 544.8L399.3 545.1L400.3 545.4L401.2 545.7L402.2 546L403.1 546.3L404.1 546.6L405 546.8L406 547L406.9 547.3L407.9 547.5L408.8 547.7L409.8 548L410.7 548.2L411.7 548.4L412.6 548.7L413.6 548.9L414.5 549.1L415.5 549.3L416.4 549.6L417.4 549.8L418.3 550L419.3 550.3L420.2 550.5L421.2 550.7L422.1 550.9L423.1 551.1L424 551.3L425 551.5L425.9 551.7L426.9 551.9L427.8 552.1L428.8 552.3L429.7 552.5L430.7 552.6L431.6 552.8L432.6 553L433.5 553.2L434.5 553.4L435.4 553.5L436.4 553.7L437.3 553.9L438.3 554L439.2 554.2L440.2 554.4L441.1 554.5L442.1 554.7L443 554.8L444 555L444.9 555.1L445.9 555.3L446.8 555.5L447.8 555.6L448.7 555.7L449.7 555.9L450.6 556L451.6 556.2L452.5 556.3L453.5 556.5L454.4 556.6L455.4 556.7L456.3 556.9L457.3 557L458.2 557.1L459.2 557.3L460.1 557.4L461.1 557.5L462 557.7L463 557.8L463.9 557.9L464.9 558.1L465.8 558.2L466.8 558.3L467.7 558.4L468.7 558.5L469.6 558.7L470.6 558.8L471.5 558.9L472.5 559L473.4 559.1L474.4 559.3L475.3 559.4L476.3 559.5L477.2 559.6L478.2 559.7L479.1 559.8L480.1 559.9L481 560.1L482 560.2L482.9 560.3L483.9 560.4L484.8 560.5L485.8 560.6L486.7 560.7L487.7 560.8L488.6 560.9L489.6 561L490.5 561.1L491.5 561.2L492.4 561.3L493.4 561.4L494.3 561.5L495.3 561.6L496.2 561.7L497.2 561.8L498.1 561.9L499.1 562L500 562.1L501 562.2L501.9 562.3L502.9 562.4L503.8 562.5L504.8 562.6L505.7 562.7L506.7 562.8L507.6 562.9L508.6 563L509.5 563L510.5 563.1L511.4 563.2L512.4 563.3L513.3 563.4L514.3 563.5L515.2 563.6L516.2 563.7L517.1 563.8L518.1 563.9L519 564L520 564L520.9 564.1L521.9 564.2L522.8 564.3L523.8 564.4L524.7 564.5L525.7 564.5L526.6 564.6L527.6 564.7L528.5 564.8L529.5 564.8L530.4 564.9L531.4 565L532.3 565.1L533.3 565.1L534.2 565.2L535.2 565.3L536.1 565.3L537.1 565.4L538 565.5L539 565.5L539.9 565.6L540.9 565.7L541.8 565.7L542.8 565.8L543.7 565.8L544.7 565.9L545.6 566L546.6 566L547.5 566.1L548.5 566.2L549.4 566.2L550.4 566.3L551.3 566.3L552.3 566.4L553.2 566.5L554.2 566.5L555.1 566.6L556.1 566.7L557 566.7L558 566.8L558.9 566.8L559.9 566.9L560.8 567L561.8 567L562.7 567.1L563.7 567.1L564.6 567.2L565.6 567.2L566.5 567.3L567.5 567.4L568.4 567.4L569.4 567.5L570.3 567.5L571.3 567.6L572.2 567.6L573.2 567.7L574.1 567.7L575.1 567.8L576 567.9L577 567.9L577.9 568L578.9 568L579.8 568.1L580.8 568.1L581.7 568.2L582.7 568.3L583.6 568.3L584.6 568.4L585.5 568.4L586.5 568.5L587.4 568.5L588.4 568.6L589.3 568.7L590.3 568.7L591.2 568.8L592.2 568.9L593.1 568.9" fill="none" stroke="#4f77b0" stroke-width="1.1" stroke-linejoin="round"/>
<text x="475.8" y="604" font-size="19.5" font-style="italic" fill="#3a3a3a" text-anchor="middle">ℓ</text>
<text transform="translate(319.5 505) rotate(-90)" font-size="19" fill="#222" text-anchor="middle"><tspan font-style="italic">f</tspan>(<tspan font-style="italic">ℓ</tspan>)</text>
<path d="M469.1 481.9H511.2" stroke="#5f6fb5" stroke-width="1.15"/>
<circle cx="490.1" cy="503.9" r="3.5" fill="none" stroke="#4f77b0" stroke-width="1.1"/>
<text x="530" y="487.6" font-size="20.7" stroke="#000" stroke-width="0.15">Eq. (6)</text>
<text x="530" y="511" font-size="20.7" stroke="#000" stroke-width="0.15">ED</text>
<text x="485.6" y="545.6" font-size="22.5" stroke="#000" stroke-width="0.15">N<tspan font-size="15" dy="3.5">c</tspan><tspan dy="-3.5">=5.5M</tspan></text>
<text x="365.3" y="479.8" font-size="17.5" textLength="41.6" lengthAdjust="spacingAndGlyphs" stroke="#111" stroke-width="0.45">log-convex</text>
</svg>
</body></html>
